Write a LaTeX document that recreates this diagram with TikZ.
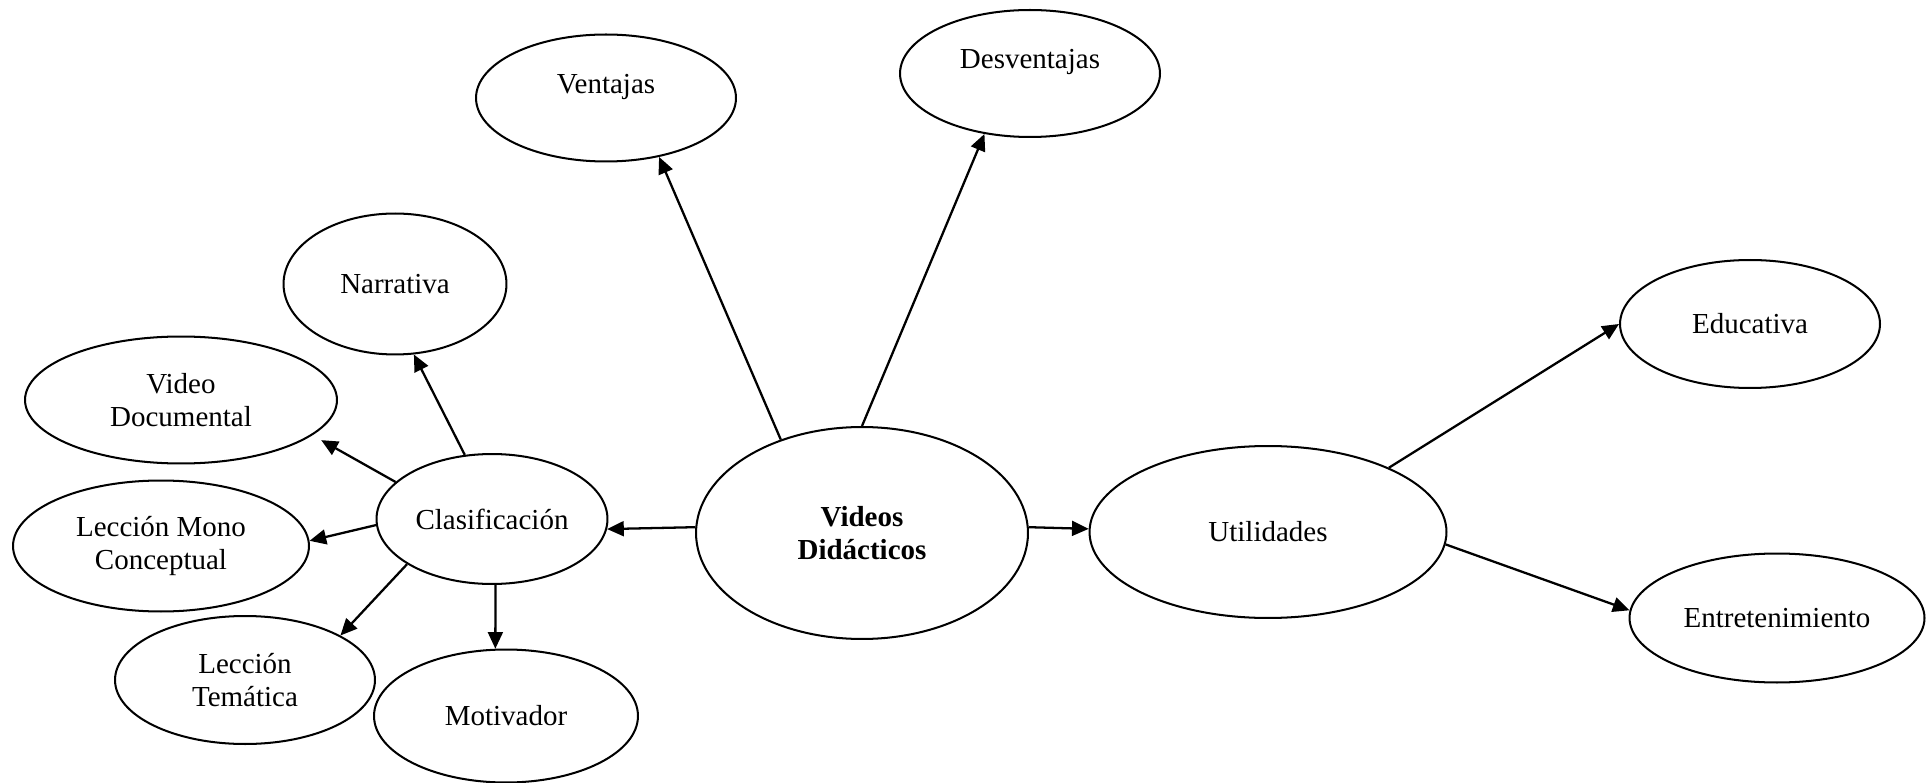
\documentclass[tikz,border=0pt]{standalone}
\usepackage{fontspec}
\setmainfont{Liberation Serif}
\usepackage{tikz}
\usetikzlibrary{arrows.meta,shapes.geometric}
\tikzset{>/.tip={Triangle[length=9.5pt,width=8.5pt]},
  burbuja/.style={draw, ellipse, line width=1.15pt, inner sep=0pt, align=center,
    font=\fontsize{16.5}{19}\selectfont},
  texto/.style={font=\fontsize{16.5}{19}\selectfont},
  flecha/.style={->, line width=1.3pt}}

\begin{document}
\begin{tikzpicture}[x=0.02cm, y=-0.02cm]
 \useasboundingbox (0,0) rectangle (1932,783);

 \node[burbuja, minimum width=6.64cm, minimum height=4.24cm] (vd) at (862,533) {\textbf{Videos}\\\textbf{Didácticos}};
 \node[burbuja, minimum width=5.2cm,  minimum height=2.54cm] (vent) at (606,98)   {};
 \node[burbuja, minimum width=5.2cm,  minimum height=2.54cm] (desv) at (1030,73.5) {};
 \node[texto] (ventt) at (606,87)  {Ventajas};
 \node[texto] (desvt) at (1030,62) {Desventajas};

 \node[burbuja, minimum width=4.62cm, minimum height=2.6cm]  (clas) at (492,519) {Clasificación};
 \node[burbuja, minimum width=4.46cm, minimum height=2.82cm] (narr) at (395,284) {Narrativa};
 \node[burbuja, minimum width=6.24cm, minimum height=2.54cm] (vdoc) at (181,400) {Video\\Documental};
 \node[burbuja, minimum width=5.92cm, minimum height=2.62cm] (lmc)  at (161,546) {Lección Mono\\Conceptual};
 \node[burbuja, minimum width=5.2cm,  minimum height=2.56cm] (ltem) at (245,680) {Lección\\Temática};
 \node[burbuja, minimum width=5.28cm, minimum height=2.66cm] (mot)  at (506,716) {Motivador};

 \node[burbuja, minimum width=7.14cm, minimum height=3.44cm] (util) at (1268,532) {Utilidades};
 \node[burbuja, minimum width=5.2cm,  minimum height=2.56cm] (edu)  at (1750,324) {Educativa};
 \node[burbuja, minimum width=5.9cm,  minimum height=2.58cm] (ent)  at (1777,618) {Entretenimiento};

 \path[flecha] (vd.178) edge (clas.-5);
 \path[flecha] (vd.2)   edge (util.179);
 \path[flecha] (vd.131) edge (vent.-48);
 \path[flecha] (vd.90)  edge (desv.233);

 \path[flecha] (util.28) edge (edu.180);
 \path[flecha] (util.-4) edge (ent.177);

 \path[flecha] (clas.113) edge (narr.-75);
 \path[flecha] (clas.159) edge [shorten >=0.2cm] (vdoc.-15);
 \path[flecha] (clas.183) edge (lmc.2);
 \path[flecha] (clas.208) edge (ltem.25);
 \path[flecha] (clas.-87) edge (mot.99);
\end{tikzpicture}
\end{document}
